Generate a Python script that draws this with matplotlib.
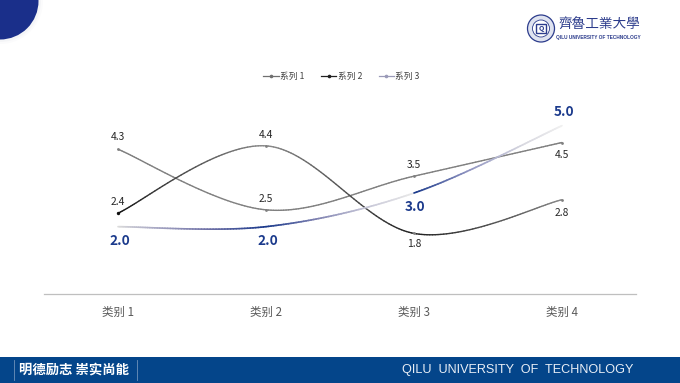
import numpy as np
import matplotlib
matplotlib.use('Agg')
import matplotlib.pyplot as plt
from matplotlib.collections import LineCollection
from matplotlib.colors import LinearSegmentedColormap
from matplotlib.lines import Line2D
from matplotlib.patches import Circle, Rectangle

plt.rcParams['font.family'] = ['Noto Sans CJK SC', 'DejaVu Sans']

categories = ['类别 1', '类别 2', '类别 3', '类别 4']
series_names = ['系列 1', '系列 2', '系列 3']
series1 = [4.3, 2.5, 3.5, 4.5]
series2 = [2.4, 4.4, 1.8, 2.8]
series3 = [2.0, 2.0, 3.0, 5.0]

navy = '#1b3a8c'
gray = '#808080'

# colour stops along each segment between two categories
series1_colors = [[gray, gray], [gray, gray], [gray, gray]]
series2_colors = [['#101010', '#8a8a8a'], ['#8a8a8a', '#202020'], ['#202020', '#8a8a8a']]
series3_colors = [['#dcdcdc', '#a8a8c4', '#6d6fa6', navy],
                  [navy, '#7d80b0', '#c4c4d6', '#e8e8e8'],
                  [navy, '#8f93c0', '#d8d8e0', '#f0f0f0']]

# label offsets in points, one per point
series1_offsets = [(0, 8.5), (0, 8), (0, 8), (0, -9)]
series2_offsets = [(0, 8), (0, 8), (0, -7.5), (0, -9.5)]
series3_offsets = [(1, -10), (1, -10), (1, -10), (1.5, 10)]


def smooth_segments(values, n=60):
    # same kind of smoothing as office charts: bezier through the points
    p = np.array(values, dtype=float)
    x = np.arange(len(p), dtype=float)
    pts = np.column_stack([x, p])
    out = []
    for i in range(len(p) - 1):
        prev_pt = pts[max(i - 1, 0)]
        next_pt = pts[min(i + 2, len(p) - 1)]
        c1 = pts[i] + (pts[i + 1] - prev_pt) / 6
        c2 = pts[i + 1] - (next_pt - pts[i]) / 6
        t = np.linspace(0, 1, n)[:, None]
        curve = (1 - t) ** 3 * pts[i] + 3 * (1 - t) ** 2 * t * c1 + 3 * (1 - t) * t ** 2 * c2 + t ** 3 * pts[i + 1]
        out.append(curve)
    return out


def draw_series(ax, values, colors, lw=1.0):
    for curve, stops in zip(smooth_segments(values), colors):
        cmap = LinearSegmentedColormap.from_list('seg', stops)
        segs = np.stack([curve[:-1], curve[1:]], axis=1)
        lc = LineCollection(segs, colors=cmap(np.linspace(0, 1, len(segs))), linewidths=lw, capstyle='round')
        ax.add_collection(lc)


fig = plt.figure(figsize=(6.8, 3.83), dpi=100, facecolor='white')

# page decoration, in pixel coordinates
bg = fig.add_axes([0, 0, 1, 1])
bg.set_xlim(0, 680)
bg.set_ylim(383, 0)
bg.axis('off')

for r, a in [(43, 0.03), (41, 0.05)]:
    bg.add_patch(Circle((0, 1), r, color='#8090a0', alpha=a, lw=0))
bg.add_patch(Circle((0, 1), 38.5, color='#1a2f8a', lw=0))
bg.add_patch(Rectangle((0, 357), 680, 26, color='#04458a', lw=0))
bg.plot([14, 14], [360, 380], color='#6f92ba', lw=0.6)
bg.plot([137, 137], [360, 380], color='#6f92ba', lw=0.6)
bg.text(74, 369.5, '明德励志 崇实尚能', color='white', fontsize=9.6, fontweight='bold', ha='center', va='center')
bg.text(517.5, 370, 'QILU  UNIVERSITY  OF  TECHNOLOGY', color='#e8eef6', fontsize=9.1,
        family='Liberation Sans', ha='center', va='center')

# logo
logo_blue = '#2c3c8c'
bg.add_patch(Circle((541, 28.5), 13.5, fc='#dfe3f0', ec=logo_blue, lw=0.9))
bg.add_patch(Circle((541, 28.5), 8.5, fc='white', ec=logo_blue, lw=0.6))
bg.add_patch(Rectangle((536, 24), 10, 9, fc='white', ec=logo_blue, lw=1))
bg.text(541, 28.5, 'Q', color=logo_blue, fontsize=5, fontweight='bold', ha='center', va='center')
bg.text(599, 24, '齊魯工業大學', color=logo_blue, fontsize=9.8, style='italic',
        family='Noto Sans CJK TC', ha='center', va='center')
bg.text(598.5, 37, 'QILU UNIVERSITY OF TECHNOLOGY', color=logo_blue, fontsize=3.4, fontweight='bold',
        family='Liberation Sans', ha='center', va='center')

# chart
ax = fig.add_axes([44 / 680, (383 - 294) / 383, 592 / 680, 202 / 383])
ax.patch.set_alpha(0)
ax.set_xlim(-0.5, 3.5)
ax.set_ylim(0, 6)
for side in ['top', 'left', 'right']:
    ax.spines[side].set_visible(False)
ax.spines['bottom'].set_color('#bfbfbf')
ax.spines['bottom'].set_linewidth(0.9)
ax.set_yticks([])
ax.set_xticks(range(len(categories)))
ax.set_xticklabels(categories, fontsize=8.3, color='#595959')
ax.tick_params(axis='x', length=0, pad=8.5)

x = np.arange(len(categories))
draw_series(ax, series1, series1_colors)
draw_series(ax, series2, series2_colors)
draw_series(ax, series3, series3_colors, lw=1.2)
ax.scatter(x, series1, s=4, color=gray, lw=0, zorder=3)
ax.scatter(x[:1], series2[:1], s=6, color='#101010', lw=0, zorder=3)
ax.scatter(x[1:], series2[1:], s=4, color=gray, lw=0, zorder=3)

for values, offsets in [(series1, series1_offsets), (series2, series2_offsets)]:
    for xi, v, off in zip(x, values, offsets):
        ax.annotate(f'{v:.1f}', (xi, v), xytext=off, textcoords='offset points', ha='center', va='center',
                    fontsize=7.4, color='#262626')
for xi, v, off in zip(x, series3, series3_offsets):
    ax.annotate(f'{v:.1f}', (xi, v), xytext=off, textcoords='offset points', ha='center', va='center',
                fontsize=9.8, fontweight='bold', color=navy)

handles = [
    Line2D([], [], color='#707070', lw=0.9, marker='o', ms=1.6),
    Line2D([], [], color='#202020', lw=0.9, marker='o', ms=1.6),
    Line2D([], [], color='#9a9ab8', lw=0.9, marker='o', ms=1.6),
]
leg = ax.legend(handles, series_names, ncol=3, loc='center', bbox_to_anchor=((341.5 - 44) / 592, (294 - 76.5) / 202),
                frameon=False, fontsize=6.3, labelcolor='#404040', handlelength=1.75, handletextpad=0.15,
                columnspacing=1.9, borderpad=0)

fig.savefig('out.png', dpi=100)
